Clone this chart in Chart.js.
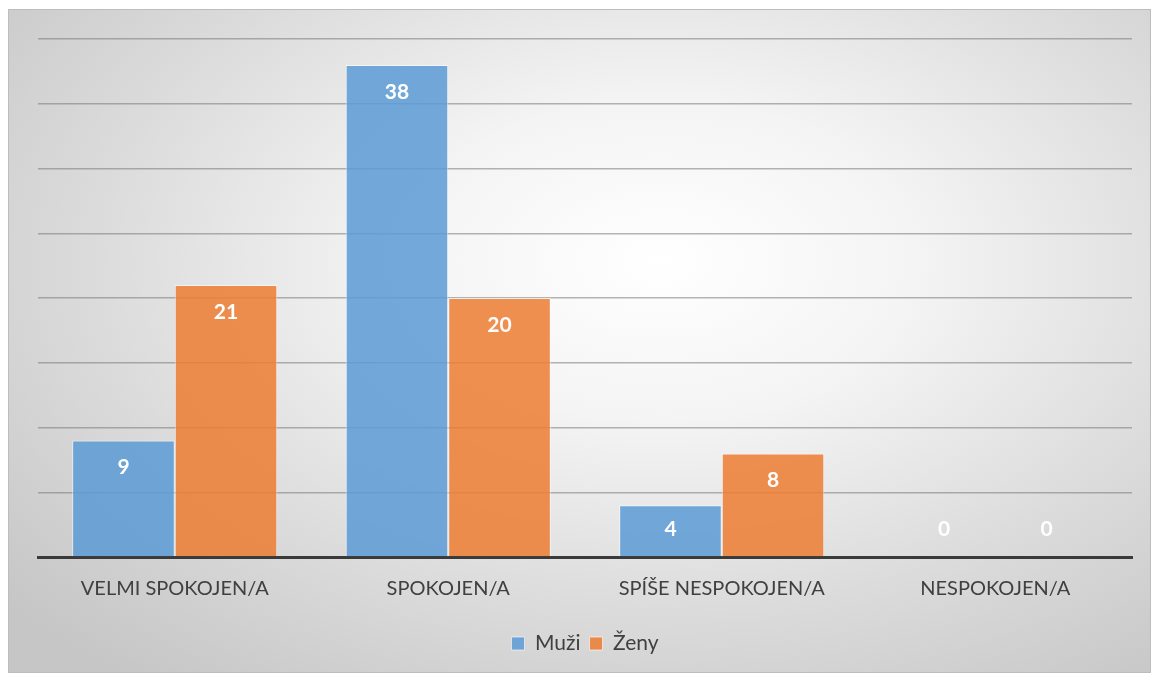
<!DOCTYPE html>
<html>
<head>
<meta charset="utf-8">
<script src="https://cdn.jsdelivr.net/npm/chart.js@4.4.0/dist/chart.umd.min.js"></script>
<style>
    body { margin: 0; background: #ffffff; }
    #frame {
        position: absolute; left: 8px; top: 9px; width: 1141px; height: 662px;
        border: 1px solid #bdbdbd;
        background: radial-gradient(ellipse 75% 80% at 57% 38%, #ffffff 0%, #f4f4f4 30%, #dcdcdc 65%, #c6c6c6 100%);
    }
    #wrap { position: absolute; left: 0; top: 0; width: 1151px; height: 675px; }
</style>
</head>
<body>
<div id="frame"></div>
<div id="wrap"><canvas id="chart"></canvas></div>
<script>
const categories = ["VELMI SPOKOJEN/A", "SPOKOJEN/A", "SPÍŠE NESPOKOJEN/A", "NESPOKOJEN/A"];
const muzi = [9, 38, 4, 0];
const zeny = [21, 20, 8, 0];
const seriesNames = ["Muži", "Ženy"];

var blue = "rgba(91, 155, 213, 0.85)";
var orange = "rgba(237, 125, 49, 0.85)";
var textGray = "#404040";

// white value labels inside the top of each bar
const valueLabels = {
    id: "valueLabels",
    afterDatasetsDraw(chart) {
        let ctx = chart.ctx;
        let base = chart.scales.y.getPixelForValue(0);
        ctx.save();
        ctx.fillStyle = "#ffffff";
        ctx.font = "bold 21px Lato";
        ctx.textAlign = "center";
        ctx.textBaseline = "middle";
        chart.data.datasets.forEach((ds, i) => {
            chart.getDatasetMeta(i).data.forEach((bar, j) => {
                let y = Math.min(bar.y + 27, base - 28);
                ctx.fillText(String(ds.data[j]), bar.x, y);
            });
        });
        ctx.restore();
    }
};

let ctx = document.getElementById("chart");
let chart = new Chart(ctx, {
    type: "bar",
    data: {
        labels: categories,
        datasets: [
            { label: seriesNames[0], data: muzi, backgroundColor: blue, borderColor: "rgba(255,255,255,0.6)", borderWidth: 1 },
            { label: seriesNames[1], data: zeny, backgroundColor: orange, borderColor: "rgba(255,255,255,0.6)", borderWidth: 1 }
        ]
    },
    options: {
        responsive: true,
        maintainAspectRatio: false,
        animation: false,
        layout: { padding: { left: 38, right: 19, top: 39, bottom: 11 } },
        datasets: { bar: { categoryPercentage: 0.75, barPercentage: 1.0 } },
        scales: {
            x: {
                grid: { display: false, drawTicks: false },
                border: { display: true, color: "#3a3a3a", width: 3 },
                ticks: { color: textGray, font: { family: "Lato", size: 20 }, padding: 20 },
                afterFit: (scale) => { scale.height = 67; }
            },
            y: {
                min: 0, max: 40,
                ticks: { display: false, stepSize: 5 },
                grid: { color: "rgba(120,120,120,0.55)", lineWidth: 1.5, drawTicks: false },
                border: { display: false }
            }
        },
        plugins: {
            legend: {
                position: "bottom",
                labels: {
                    color: textGray, font: { family: "Lato", size: 21 },
                    boxWidth: 13, boxHeight: 13, padding: 9
                }
            },
            tooltip: { enabled: false }
        }
    },
    plugins: [valueLabels]
});
</script>
</body>
</html>
